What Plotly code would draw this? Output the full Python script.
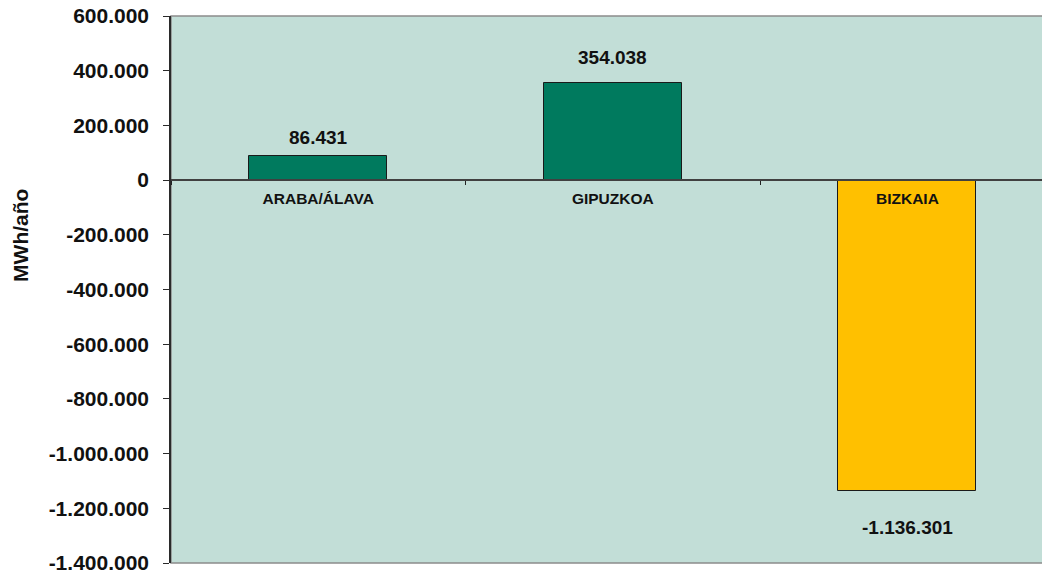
import plotly.graph_objects as go

categories = ["ARABA/ÁLAVA", "GIPUZKOA", "BIZKAIA"]
values = [86431, 354038, -1136301]
label_texts = ["86.431", "354.038", "-1.136.301"]
bar_colors = ["#007A5E", "#007A5E", "#FFC000"]
y_tickvals = [600000, 400000, 200000, 0, -200000, -400000, -600000,
              -800000, -1000000, -1200000, -1400000]
y_ticktext = ["600.000", "400.000", "200.000", "0", "-200.000", "-400.000", "-600.000",
              "-800.000", "-1.000.000", "-1.200.000", "-1.400.000"]

# pixel shifts for data labels (style, not data)
label_shift = [19, 26, -37]

FONT = "Liberation Sans, Arial"

fig = go.Figure()
fig.add_trace(go.Bar(
    x=categories, y=values,
    marker=dict(color=bar_colors, line=dict(color="#1a1a1a", width=1)),
    width=0.468, hoverinfo="skip",
))

for c, v, t, s in zip(categories, values, label_texts, label_shift):
    fig.add_annotation(x=c, y=v, text=t, showarrow=False, yshift=s,
                       yanchor="middle", xanchor="center",
                       font=dict(family=FONT, size=19, color="#111", weight="bold"))

fig.add_annotation(xref="paper", yref="paper", x=0, y=0.598, xshift=-150,
                   text="MWh/año", textangle=-90, showarrow=False,
                   xanchor="center", yanchor="middle",
                   font=dict(family=FONT, size=21, color="#111", weight="bold"))

fig.add_shape(type="rect", xref="paper", yref="paper", x0=0, x1=1.01, y0=0, y1=1,
              line=dict(color="#8c8c8c", width=1.5), layer="below")

fig.update_layout(
    width=1042, height=575,
    margin=dict(l=171, r=0, t=16, b=12, autoexpand=False),
    paper_bgcolor="white", plot_bgcolor="#C2DED7",
    showlegend=False,
    font=dict(family=FONT, color="#111"),
    bargap=0,
)
fig.update_xaxes(
    type="category", range=[-0.5, 2.457],
    anchor="free", position=0.7,
    showline=True, linecolor="#404040", linewidth=1.5,
    ticks="outside", ticklen=4, tickcolor="#222", tickson="boundaries",
    tickfont=dict(size=15.5, family=FONT, color="#111", weight="bold"),
    showgrid=False, zeroline=False, ticklabelstandoff=5,
)
fig.update_yaxes(
    range=[-1400000, 600000], tickvals=y_tickvals, ticktext=y_ticktext,
    showline=True, linecolor="#2a2a2a", linewidth=1.5,
    ticks="outside", ticklen=6, tickcolor="#2a2a2a",
    tickfont=dict(size=21, family=FONT, color="#111", weight="bold"),
    showgrid=False, zeroline=False, ticklabelstandoff=10, automargin=False,
    ticklabeloverflow="allow",
)

fig.write_html("out.html", config={"displayModeBar": False},
               post_script="document.body.style.margin='0';")
